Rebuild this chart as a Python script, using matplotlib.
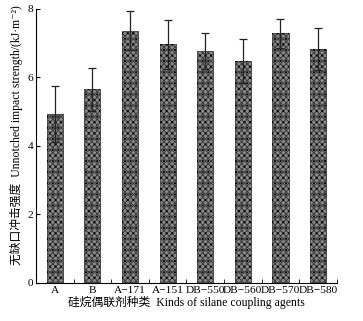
import matplotlib
matplotlib.use("Agg")
import matplotlib.pyplot as plt
import numpy as np

categories = ["A", "B", "A\u2212171", "A\u2212151", "DB\u2212550", "DB\u2212560", "DB\u2212570", "DB\u2212580"]
values = [4.93, 5.65, 7.36, 6.97, 6.77, 6.49, 7.29, 6.83]
errors = [0.83, 0.63, 0.57, 0.71, 0.52, 0.64, 0.43, 0.60]

plt.rcParams['font.family'] = ['Liberation Serif', 'Noto Sans CJK SC', 'DejaVu Serif']
plt.rcParams['hatch.linewidth'] = 0.7

fig = plt.figure(figsize=(3.63, 3.21), dpi=100)
ax = fig.add_axes([0.099, 0.119, 0.829, 0.853])

x = np.arange(len(categories))
# base checker texture
ax.bar(x, values, width=0.43, color='#8a8a8a', edgecolor='#3c3c3c', linewidth=0.6,
       hatch='xxxxxx', zorder=2)
# dot overlay
ax.bar(x, values, width=0.43, fill=False, edgecolor='#000000', linewidth=0.0,
       hatch='...', zorder=2.1)
ax.errorbar(x, values, yerr=errors, fmt='none', ecolor='#222222', elinewidth=0.9,
            capsize=3, capthick=0.9, zorder=3)

ax.set_xlim(-0.5, 7.5)
ax.set_ylim(0, 8)
ax.set_yticks([0, 2, 4, 6, 8])
ax.set_xticks(x)
ax.set_xticklabels(categories)
ax.set_xticks(np.arange(-0.5, 8.0, 1.0), minor=True)
ax.tick_params(axis='x', which='major', length=0, labelsize=8.2, pad=2)
ax.tick_params(axis='x', which='minor', direction='in', length=3)
ax.tick_params(axis='y', direction='in', length=3, labelsize=8.2, pad=2)
ax.spines['top'].set_visible(False)
ax.spines['right'].set_visible(False)

ax.set_xlabel("硅烷偶联剂种类  Kinds of silane coupling agents", fontsize=8.5, labelpad=1)
ax.set_ylabel("无缺口冲击强度  Unnotched impact strength/(kJ\u00b7m\u207b\u00b2)", fontsize=8.5, labelpad=3)
ax.yaxis.label.set_y(0.54)

fig.savefig("out.png", dpi=100)
